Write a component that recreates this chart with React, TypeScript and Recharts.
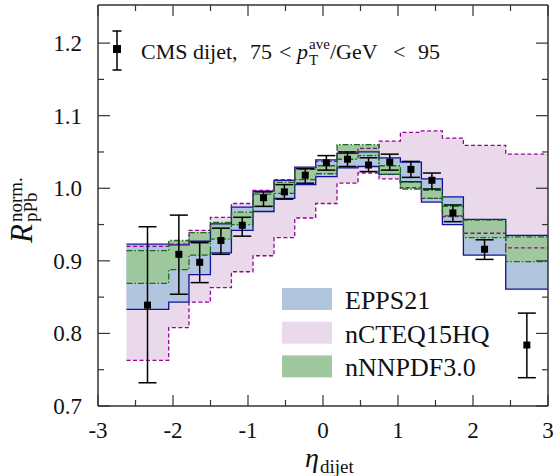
import React from "react";
import { ComposedChart, Area, Scatter, ErrorBar, XAxis, YAxis } from "recharts";

// bin edges in eta_dijet (last bin runs to the frame)
const binEdges = [
  -2.62, -2.057, -1.787, -1.501, -1.221, -0.933, -0.653, -0.377, -0.097, 0.187,
  0.467, 0.747, 1.032, 1.312, 1.592, 1.872, 2.436, 3.0,
];

// EPPS21 band, one value per bin
const eppsLow = [0.833, 0.843, 0.881, 0.911, 0.942, 0.968, 0.986, 1.005, 1.016, 1.028, 1.030, 1.019, 1.009, 0.981, 0.950, 0.908, 0.861];
const eppsHigh = [0.923, 0.922, 0.927, 0.951, 0.974, 0.996, 1.011, 1.029, 1.039, 1.048, 1.050, 1.042, 1.036, 1.013, 0.988, 0.957, 0.935];

// nCTEQ15HQ band
const ncteqLow = [0.763, 0.808, 0.843, 0.863, 0.885, 0.907, 0.932, 0.959, 0.979, 1.007, 1.021, 1.013, 1.001, 0.986, 0.961, 0.938, 0.918];
const ncteqHigh = [0.920, 0.923, 0.942, 0.960, 0.979, 0.997, 1.012, 1.028, 1.037, 1.050, 1.055, 1.065, 1.077, 1.079, 1.069, 1.059, 1.047];

// nNNPDF3.0 band
const nnpdfLow = [0.869, 0.888, 0.908, 0.930, 0.950, 0.975, 0.993, 1.012, 1.020, 1.040, 1.045, 1.019, 0.999, 0.986, 0.962, 0.932, 0.899];
const nnpdfHigh = [0.914, 0.928, 0.939, 0.953, 0.967, 0.992, 1.008, 1.026, 1.031, 1.060, 1.060, 1.031, 1.008, 0.997, 0.975, 0.956, 0.933];

// CMS data
const cmsEta = [-2.34, -1.922, -1.644, -1.361, -1.077, -0.793, -0.515, -0.237, 0.045, 0.327, 0.607, 0.89, 1.172, 1.452, 1.732, 2.154, 2.718];
const cmsRatio = [0.839, 0.909, 0.898, 0.928, 0.949, 0.987, 0.995, 1.018, 1.035, 1.040, 1.032, 1.036, 1.026, 1.011, 0.966, 0.916, 0.784];
const cmsErrDown = [0.107, 0.055, 0.028, 0.019, 0.015, 0.012, 0.010, 0.011, 0.010, 0.010, 0.009, 0.011, 0.011, 0.012, 0.012, 0.014, 0.045];
const cmsErrUp = [0.108, 0.054, 0.027, 0.017, 0.011, 0.008, 0.010, 0.009, 0.010, 0.010, 0.010, 0.011, 0.011, 0.010, 0.011, 0.013, 0.044];

const xTicks = [-3, -2.5, -2, -1.5, -1, -0.5, 0, 0.5, 1, 1.5, 2, 2.5, 3];
const yTicks = [0.7, 0.75, 0.8, 0.85, 0.9, 0.95, 1.0, 1.05, 1.1, 1.15, 1.2];

const legendNames = ["EPPS21", "nCTEQ15HQ", "nNNPDF3.0"];

const FONT = "'Liberation Serif', 'DejaVu Serif', serif";
const AXIS = "#333";
const EPPS_FILL = "#b1c5df";
const EPPS_LINE = "#10109a";
const NCTEQ_FILL = "#e9d9ea";
const NCTEQ_LINE = "#990099";
const NNPDF_FILL = "#9fc89f";
const NNPDF_LINE = "#1a6b1a";

const bandRows = binEdges.map((x, i) => {
  const b = Math.min(i, eppsLow.length - 1);
  return {
    x,
    epps: [eppsLow[b], eppsHigh[b]],
    ncteq: [ncteqLow[b], ncteqHigh[b]],
    nnpdf: [nnpdfLow[b], nnpdfHigh[b]],
  };
});

const cmsPoints = cmsEta.map((x, i) => ({
  x,
  y: cmsRatio[i],
  err: [cmsErrDown[i], cmsErrUp[i]],
}));

const isMajorX = (v: number) => Math.abs(v - Math.round(v)) < 1e-6;
const isMajorY = (v: number) => Math.round(v * 100) % 10 === 0;

// tickSize=0 / tickMargin=0 so (x, y) handed to the tick is on the axis line
const BottomTick = ({ x, y, payload }: any) => {
  const major = isMajorX(payload.value);
  return (
    <g>
      <line x1={x} x2={x} y1={y} y2={y - (major ? 11 : 6)} stroke={AXIS} strokeWidth={1.2} />
      {major && (
        <text x={x} y={y + 32} textAnchor="middle" fontSize={23} fontFamily={FONT} fill="#111">
          {String(payload.value)}
        </text>
      )}
    </g>
  );
};

const TopTick = ({ x, y, payload }: any) => {
  const major = isMajorX(payload.value);
  return <line x1={x} x2={x} y1={y} y2={y + (major ? 11 : 6)} stroke={AXIS} strokeWidth={1.2} />;
};

const LeftTick = ({ x, y, payload }: any) => {
  const major = isMajorY(payload.value);
  return (
    <g>
      <line x1={x} x2={x + (major ? 12 : 6)} y1={y} y2={y} stroke={AXIS} strokeWidth={1.2} />
      {major && (
        <text x={x - 16} y={y + 8} textAnchor="end" fontSize={23} fontFamily={FONT} fill="#111">
          {payload.value.toFixed(1)}
        </text>
      )}
    </g>
  );
};

const RightTick = ({ x, y, payload }: any) => {
  const major = isMajorY(payload.value);
  return <line x1={x} x2={x - (major ? 12 : 6)} y1={y} y2={y} stroke={AXIS} strokeWidth={1.2} />;
};

const Square = ({ cx, cy }: any) => (
  <rect x={cx - 3.5} y={cy - 3.5} width={7} height={7} fill="#000" />
);

const legendFills = [EPPS_FILL, NCTEQ_FILL, NNPDF_FILL];

export default function App() {
  return (
    <div style={{ position: "absolute", left: 0, top: 0, width: 556, height: 476, background: "#fff" }}>
      <ComposedChart
        width={556}
        height={476}
        data={bandRows}
        margin={{ top: 4, right: 7, bottom: 40, left: 38 }}
      >
        <XAxis
          dataKey="x"
          type="number"
          domain={[-3, 3]}
          ticks={xTicks}
          allowDataOverflow
          height={30}
          tickSize={0}
          tickMargin={0}
          tickLine={false}
          axisLine={{ stroke: AXIS, strokeWidth: 1.5 }}
          tick={<BottomTick />}
          interval={0}
        />
        <XAxis
          xAxisId="top"
          orientation="top"
          dataKey="x"
          type="number"
          domain={[-3, 3]}
          ticks={xTicks}
          allowDataOverflow
          height={1}
          tickSize={0}
          tickMargin={0}
          tickLine={false}
          axisLine={{ stroke: AXIS, strokeWidth: 1.5 }}
          tick={<TopTick />}
          interval={0}
        />
        <YAxis
          type="number"
          domain={[0.7, 1.2525]}
          ticks={yTicks}
          allowDataOverflow
          width={60}
          tickSize={0}
          tickMargin={0}
          tickLine={false}
          axisLine={{ stroke: AXIS, strokeWidth: 1.5 }}
          tick={<LeftTick />}
          interval={0}
        />
        <YAxis
          yAxisId="right"
          orientation="right"
          type="number"
          domain={[0.7, 1.2525]}
          ticks={yTicks}
          allowDataOverflow
          width={1}
          tickSize={0}
          tickMargin={0}
          tickLine={false}
          axisLine={{ stroke: AXIS, strokeWidth: 1.5 }}
          tick={<RightTick />}
          interval={0}
        />

        {/* fills first */}
        <Area dataKey="ncteq" type="stepAfter" fill={NCTEQ_FILL} fillOpacity={1} stroke="none" dot={false} activeDot={false} isAnimationActive={false} />
        <Area dataKey="epps" type="stepAfter" fill={EPPS_FILL} fillOpacity={1} stroke="none" dot={false} activeDot={false} isAnimationActive={false} />
        <Area dataKey="nnpdf" type="stepAfter" fill={NNPDF_FILL} fillOpacity={1} stroke="none" dot={false} activeDot={false} isAnimationActive={false} />

        {/* outlines on top */}
        <Area dataKey="epps" type="stepAfter" fill="none" stroke={EPPS_LINE} strokeWidth={1.3} dot={false} activeDot={false} isAnimationActive={false} />
        <Area dataKey="ncteq" type="stepAfter" fill="none" stroke={NCTEQ_LINE} strokeWidth={1.3} strokeDasharray="4 2.5" dot={false} activeDot={false} isAnimationActive={false} />
        <Area dataKey="nnpdf" type="stepAfter" fill="none" stroke={NNPDF_LINE} strokeWidth={1.3} strokeDasharray="6 2 1.5 2" dot={false} activeDot={false} isAnimationActive={false} />

        <Scatter data={cmsPoints} dataKey="y" shape={<Square />} isAnimationActive={false}>
          <ErrorBar dataKey="err" direction="y" width={9} stroke="#000" strokeWidth={1.5} />
        </Scatter>

        {/* invisible points so the mirror axes have a series */}
        <Scatter data={cmsPoints} dataKey="y" xAxisId="top" yAxisId="right" fill="none" shape={() => <g />} isAnimationActive={false} />
      </ComposedChart>

      <svg
        width={556}
        height={476}
        style={{ position: "absolute", left: 0, top: 0, pointerEvents: "none" }}
        fontFamily={FONT}
      >
        {/* y axis title */}
        <g transform="rotate(-90)">
          <text x={-243} y={32} fontSize={31} fontStyle="italic" fill="#111">R</text>
          <text x={-222} y={22} fontSize={19} fill="#111">norm.</text>
          <text x={-222} y={37} fontSize={19} fill="#111">pPb</text>
        </g>

        {/* x axis title */}
        <text x={305} y={467} fontSize={28} fontStyle="italic" fill="#111">η</text>
        <text x={320} y={473} fontSize={19} fill="#111">dijet</text>

        {/* data label */}
        <line x1={117} x2={117} y1={31} y2={70} stroke="#000" strokeWidth={1.5} />
        <line x1={112.5} x2={121.5} y1={31} y2={31} stroke="#000" strokeWidth={1.5} />
        <line x1={112.5} x2={121.5} y1={70} y2={70} stroke="#000" strokeWidth={1.5} />
        <rect x={113} y={45} width={8} height={8} fill="#000" />
        <text x={141} y={59} fontSize={22} fill="#111">CMS dijet,</text>
        <text x={250} y={59} fontSize={22} fill="#111">75</text>
        <text x={279} y={59} fontSize={22} fill="#111">&lt;</text>
        <text x={297} y={59} fontSize={22} fontStyle="italic" fill="#111">p</text>
        <text x={309} y={49} fontSize={15} fill="#111">ave</text>
        <text x={309} y={65} fontSize={15} fill="#111">T</text>
        <text x={330} y={59} fontSize={22} fill="#111">/GeV</text>
        <text x={393} y={59} fontSize={22} fill="#111">&lt;</text>
        <text x={418} y={59} fontSize={22} fill="#111">95</text>

        {/* legend */}
        {legendNames.map((name, i) => (
          <g key={name}>
            <rect x={282} y={288 + i * 33.7} width={50} height={22} fill={legendFills[i]} />
            <text x={345} y={309 + i * 33.5} fontSize={26} fill="#111">{name}</text>
          </g>
        ))}
      </svg>
    </div>
  );
}
